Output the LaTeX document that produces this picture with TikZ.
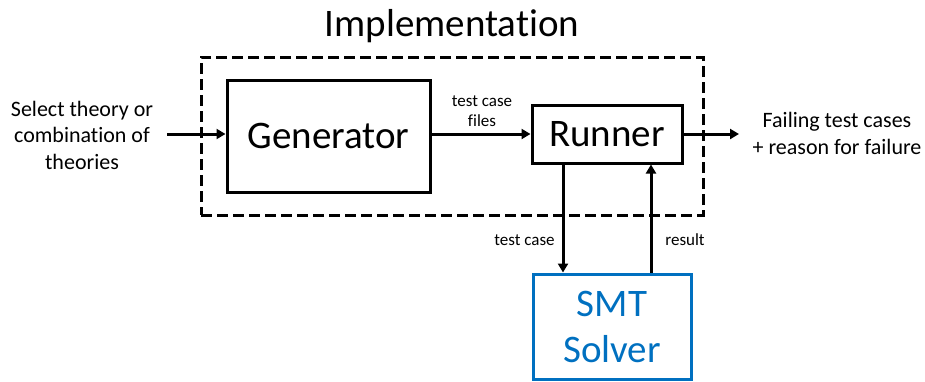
\documentclass[tikz,border=0pt]{standalone}
\usepackage{fontspec}
\setmainfont{Carlito}[RawFeature={-liga;-dlig;-clig}]
\usetikzlibrary{arrows.meta}
\definecolor{smtblue}{HTML}{0070C0}
\tikzset{
  blk/.style={draw=black, line width=3pt, inner sep=0pt, font=\fontsize{39}{46}\selectfont},
  impl/.style={draw=black, line width=3pt, dash pattern=on 11pt off 5pt, inner sep=0pt},
  arr/.style={line width=3pt, -{Triangle[length=9pt,width=10pt]}},
  lbl/.style={font=\fontsize{22}{26.5}\selectfont, align=center, inner sep=0pt},
  small/.style={font=\fontsize{17}{20}\selectfont, align=center, inner sep=0pt}
}
\begin{document}
\begin{tikzpicture}[x=1pt,y=-1pt]
\useasboundingbox (0,0) rectangle (925,381);
\node[impl, minimum width=502pt, minimum height=158pt] (box) at (452,136) {};
\node[font=\fontsize{39}{46}\selectfont, anchor=base, inner sep=0pt] (title) at (452,36) {Implementation};
\node[blk, minimum width=203pt, minimum height=112pt] (gen) at (328.5,136) {Generator};
\node[blk, minimum width=150pt, minimum height=58pt] (run) at (607,134) {Runner};
\node[blk, draw=smtblue, text=smtblue, align=center, minimum width=158pt, minimum height=105pt] (smt) at (612,326.5) {SMT\\Solver};
\node[lbl, anchor=base] (sel) at (82,169) {Select theory or\\combination of\\theories};
\node[lbl, anchor=base] (fail) at (837,154) {Failing test cases\\+ reason for failure};
\node[small, anchor=base] (tcf) at (482,126) {test case\\files};
\coordinate (inS) at (167,134);
\coordinate (outE) at (739,134);
\draw[arr] (inS) -- (gen.west |- inS);
\draw[arr] (gen.east |- run.west) -- (run.west);
\draw[arr] (run.east) -- (outE);
\draw[arr] ([xshift=-44pt]run.south) -- ([xshift=-44pt]run.south |- smt.north);
\draw[arr] ([xshift=44pt]run.south |- smt.north) -- ([xshift=44pt]run.south);
\node[small, anchor=base] (tc) at (524.5,245) {test case};
\node[small, anchor=base] (res) at (685,245) {result};
\end{tikzpicture}
\end{document}
